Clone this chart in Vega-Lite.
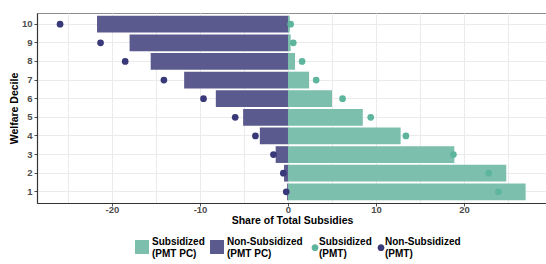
{
  "$schema": "https://vega.github.io/schema/vega-lite/v6.json",
  "width": 510,
  "height": 190,
  "autosize": {"type": "none"},
  "padding": {"left": 37, "top": 13, "right": 0, "bottom": 61},
  "background": "white",
  "config": {
    "font": "Liberation Sans",
    "view": {"stroke": "#8c8c8c", "strokeWidth": 1},
    "legend": {
      "padding": 0,
      "labelFont": "Liberation Sans",
      "labelFontWeight": "bold",
      "labelFontSize": 10,
      "labelColor": "black",
      "labelLimit": 200,
      "labelBaseline": "bottom",
      "symbolStrokeWidth": 0,
      "symbolOpacity": 1
    }
  },
  "data": {
    "values": [
      {"decile": 10, "series": "Non-Subsidized (PMT PC)", "kind": "bar", "value": -21.7},
      {"decile": 9, "series": "Non-Subsidized (PMT PC)", "kind": "bar", "value": -18.0},
      {"decile": 8, "series": "Non-Subsidized (PMT PC)", "kind": "bar", "value": -15.6},
      {"decile": 7, "series": "Non-Subsidized (PMT PC)", "kind": "bar", "value": -11.8},
      {"decile": 6, "series": "Non-Subsidized (PMT PC)", "kind": "bar", "value": -8.2},
      {"decile": 5, "series": "Non-Subsidized (PMT PC)", "kind": "bar", "value": -5.1},
      {"decile": 4, "series": "Non-Subsidized (PMT PC)", "kind": "bar", "value": -3.2},
      {"decile": 3, "series": "Non-Subsidized (PMT PC)", "kind": "bar", "value": -1.4},
      {"decile": 2, "series": "Non-Subsidized (PMT PC)", "kind": "bar", "value": -0.45},
      {"decile": 1, "series": "Non-Subsidized (PMT PC)", "kind": "bar", "value": -0.1},
      {"decile": 10, "series": "Subsidized (PMT PC)", "kind": "bar", "value": 0.2},
      {"decile": 9, "series": "Subsidized (PMT PC)", "kind": "bar", "value": 0.3},
      {"decile": 8, "series": "Subsidized (PMT PC)", "kind": "bar", "value": 0.8},
      {"decile": 7, "series": "Subsidized (PMT PC)", "kind": "bar", "value": 2.4},
      {"decile": 6, "series": "Subsidized (PMT PC)", "kind": "bar", "value": 5.0},
      {"decile": 5, "series": "Subsidized (PMT PC)", "kind": "bar", "value": 8.5},
      {"decile": 4, "series": "Subsidized (PMT PC)", "kind": "bar", "value": 12.8},
      {"decile": 3, "series": "Subsidized (PMT PC)", "kind": "bar", "value": 18.9},
      {"decile": 2, "series": "Subsidized (PMT PC)", "kind": "bar", "value": 24.8},
      {"decile": 1, "series": "Subsidized (PMT PC)", "kind": "bar", "value": 27.0},
      {"decile": 10, "series": "Non-Subsidized (PMT)", "kind": "point", "value": -25.9},
      {"decile": 9, "series": "Non-Subsidized (PMT)", "kind": "point", "value": -21.3},
      {"decile": 8, "series": "Non-Subsidized (PMT)", "kind": "point", "value": -18.5},
      {"decile": 7, "series": "Non-Subsidized (PMT)", "kind": "point", "value": -14.1},
      {"decile": 6, "series": "Non-Subsidized (PMT)", "kind": "point", "value": -9.6},
      {"decile": 5, "series": "Non-Subsidized (PMT)", "kind": "point", "value": -6.0},
      {"decile": 4, "series": "Non-Subsidized (PMT)", "kind": "point", "value": -3.7},
      {"decile": 3, "series": "Non-Subsidized (PMT)", "kind": "point", "value": -1.65},
      {"decile": 2, "series": "Non-Subsidized (PMT)", "kind": "point", "value": -0.53},
      {"decile": 1, "series": "Non-Subsidized (PMT)", "kind": "point", "value": -0.2},
      {"decile": 10, "series": "Subsidized (PMT)", "kind": "point", "value": 0.3},
      {"decile": 9, "series": "Subsidized (PMT)", "kind": "point", "value": 0.6},
      {"decile": 8, "series": "Subsidized (PMT)", "kind": "point", "value": 1.6},
      {"decile": 7, "series": "Subsidized (PMT)", "kind": "point", "value": 3.2},
      {"decile": 6, "series": "Subsidized (PMT)", "kind": "point", "value": 6.2},
      {"decile": 5, "series": "Subsidized (PMT)", "kind": "point", "value": 9.4},
      {"decile": 4, "series": "Subsidized (PMT)", "kind": "point", "value": 13.4},
      {"decile": 3, "series": "Subsidized (PMT)", "kind": "point", "value": 18.8},
      {"decile": 2, "series": "Subsidized (PMT)", "kind": "point", "value": 22.8},
      {"decile": 1, "series": "Subsidized (PMT)", "kind": "point", "value": 23.9}
    ]
  },
  "encoding": {
    "y": {
      "field": "decile",
      "type": "ordinal",
      "sort": "descending",
      "scale": {"paddingInner": 0.1, "paddingOuter": 0.15},
      "axis": {
        "title": "Welfare Decile",
        "titleFont": "Liberation Sans",
        "titleFontWeight": "bold",
        "titleFontSize": 10.5,
        "titleColor": "black",
        "titlePadding": 2,
        "labelFont": "Liberation Sans",
        "labelFontWeight": "bold",
        "labelFontSize": 9.5,
        "labelColor": "#4d4d4d",
        "labelPadding": 2,
        "tickSize": 3,
        "tickColor": "#4d4d4d",
        "domainColor": "#333333",
        "domainWidth": 1.2,
        "grid": true,
        "gridColor": "#ebebeb",
        "gridWidth": 1
      }
    },
    "x": {
      "field": "value",
      "type": "quantitative",
      "scale": {"domain": [-28.52, 29.43], "nice": false, "zero": false},
      "axis": {
        "title": "Share of Total Subsidies",
        "titleFont": "Liberation Sans",
        "titleFontWeight": "bold",
        "titleFontSize": 10.5,
        "titleColor": "black",
        "titlePadding": 1,
        "values": [-25, -20, -15, -10, -5, 0, 5, 10, 15, 20, 25],
        "labelExpr": "datum.value % 10 === 0 ? '' + datum.value : ''",
        "labelFont": "Liberation Sans",
        "labelFontWeight": "bold",
        "labelFontSize": 9.5,
        "labelColor": "#4d4d4d",
        "labelPadding": -1.5,
        "tickSize": 3,
        "tickColor": "#4d4d4d",
        "tickOpacity": {"condition": {"test": "datum.value % 10 !== 0", "value": 0}, "value": 1},
        "domainColor": "#333333",
        "domainWidth": 1.2,
        "grid": true,
        "gridColor": "#ebebeb",
        "gridWidth": 1
      }
    }
  },
  "resolve": {"scale": {"color": "independent"}, "legend": {"color": "independent"}},
  "layer": [
    {
      "transform": [{"filter": "datum.kind === 'bar'"}],
      "mark": {"type": "bar", "opacity": 1},
      "encoding": {
        "color": {
          "field": "series",
          "type": "nominal",
          "scale": {
            "domain": ["Subsidized (PMT PC)", "Non-Subsidized (PMT PC)"],
            "range": ["#7dbfad", "#5b5a8f"]
          },
          "legend": {
            "title": null,
            "orient": "none",
            "legendX": 98,
            "legendY": 227,
            "direction": "horizontal",
            "symbolType": "square",
            "symbolSize": 196,
            "columnPadding": 5,
            "labelOffset": 3,
            "labelExpr": "[slice(datum.label, 0, indexof(datum.label, ' (')), slice(datum.label, indexof(datum.label, ' (') + 1)]"
          }
        }
      }
    },
    {
      "transform": [{"filter": "datum.kind === 'point'"}],
      "mark": {"type": "point", "filled": true, "size": 45, "opacity": 1},
      "encoding": {
        "color": {
          "field": "series",
          "type": "nominal",
          "scale": {
            "domain": ["Subsidized (PMT)", "Non-Subsidized (PMT)"],
            "range": ["#5db59d", "#39397a"]
          },
          "legend": {
            "title": null,
            "orient": "none",
            "legendX": 271,
            "legendY": 227,
            "direction": "horizontal",
            "symbolType": "M0.485,0.1A0.485,0.485,0,1,1,-0.485,0.1A0.485,0.485,0,1,1,0.485,0.1Z",
            "symbolSize": 196,
            "columnPadding": 2,
            "labelOffset": -3,
            "labelExpr": "[slice(datum.label, 0, indexof(datum.label, ' (')), slice(datum.label, indexof(datum.label, ' (') + 1)]"
          }
        }
      }
    }
  ]
}
